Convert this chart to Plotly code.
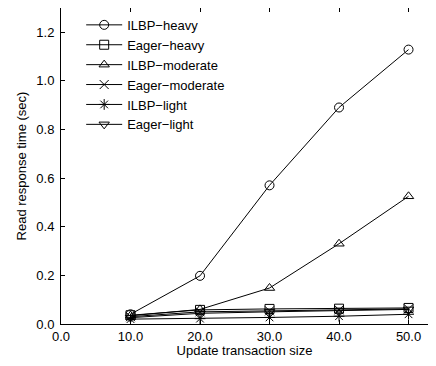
import plotly.graph_objects as go

x_sizes = [10, 20, 30, 40, 50]
ilbp_heavy = [0.040, 0.198, 0.570, 0.890, 1.128]
eager_heavy = [0.036, 0.058, 0.062, 0.063, 0.066]
ilbp_moderate = [0.034, 0.060, 0.148, 0.330, 0.525]
eager_moderate = [0.030, 0.050, 0.054, 0.058, 0.062]
ilbp_light = [0.020, 0.022, 0.027, 0.032, 0.040]
eager_light = [0.026, 0.044, 0.050, 0.056, 0.060]

series = [
    ("ILBP\u2212heavy", ilbp_heavy, "circle-open"),
    ("Eager\u2212heavy", eager_heavy, "square-open"),
    ("ILBP\u2212moderate", ilbp_moderate, "triangle-up-open"),
    ("Eager\u2212moderate", eager_moderate, "x-thin-open"),
    ("ILBP\u2212light", ilbp_light, "asterisk-open"),
    ("Eager\u2212light", eager_light, "triangle-down-open"),
]

fig = go.Figure()
for name, vals, sym in series:
    fig.add_trace(go.Scatter(
        x=x_sizes, y=vals, name=name, mode="lines+markers",
        line=dict(color="black", width=1),
        marker=dict(symbol=sym, size=9, color="black",
                    line=dict(color="black", width=1)),
    ))

font = dict(family="Liberation Sans, Arial, sans-serif", size=13, color="black")
fig.update_layout(
    width=420, height=350,
    margin=dict(l=53, r=0, t=0, b=34),
    paper_bgcolor="white", plot_bgcolor="white",
    font=font,
    showlegend=True,
    legend=dict(x=0.055, y=0.994, xanchor="left", yanchor="top",
                bgcolor="rgba(0,0,0,0)", font=font,
                itemwidth=36, tracegroupgap=0),
    xaxis=dict(range=[0, 52.8], tickvals=[0, 10, 20, 30, 40, 50],
               ticktext=["0.0", "10.0", "20.0", "30.0", "40.0", "50.0"],
               ticks="inside", ticklen=4, tickcolor="black",
               showline=True, linecolor="black", linewidth=1, mirror="ticks",
               showgrid=False, zeroline=False, automargin=False,
               title=dict(text="Update transaction size", font=font, standoff=5)),
    yaxis=dict(range=[0, 1.299], tickvals=[0, 0.2, 0.4, 0.6, 0.8, 1.0, 1.2],
               ticktext=["0.0", "0.2", "0.4", "0.6", "0.8", "1.0", "1.2"],
               ticks="inside", ticklen=4, tickcolor="black",
               ticklabelstandoff=3,
               showline=True, linecolor="black", linewidth=1, mirror=False,
               showgrid=False, zeroline=False, automargin=False,
               title=dict(text="Read response time (sec)", font=font, standoff=6)),
)

fig.write_html("out.html")
